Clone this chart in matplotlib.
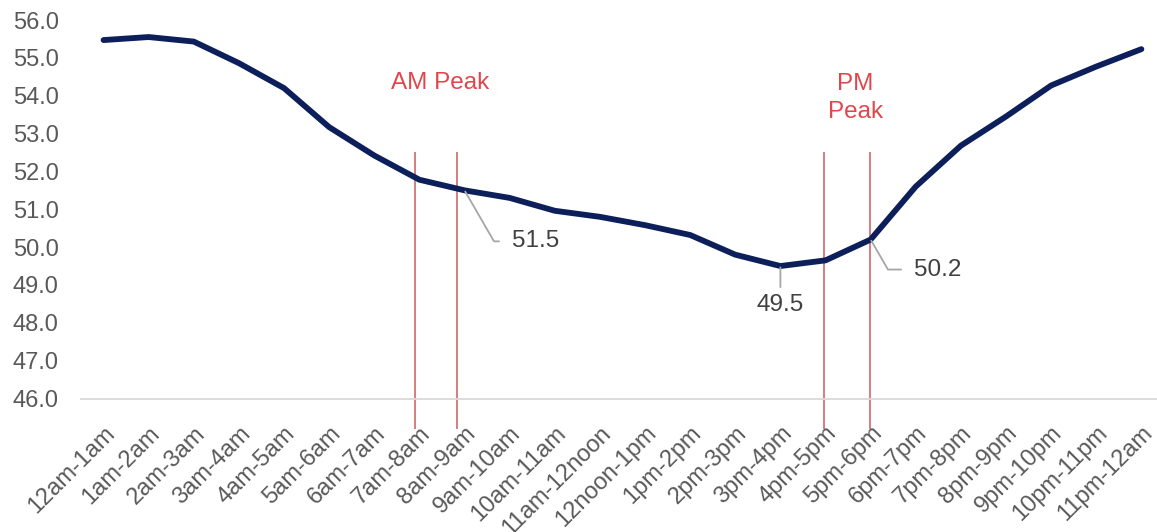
import matplotlib
matplotlib.use("Agg")
import matplotlib.pyplot as plt

plt.rcParams['font.family'] = ['Liberation Sans', 'DejaVu Sans']

# Hourly time bands
hours = ["12am-1am", "1am-2am", "2am-3am", "3am-4am", "4am-5am", "5am-6am",
         "6am-7am", "7am-8am", "8am-9am", "9am-10am", "10am-11am", "11am-12noon",
         "12noon-1pm", "1pm-2pm", "2pm-3pm", "3pm-4pm", "4pm-5pm", "5pm-6pm",
         "6pm-7pm", "7pm-8pm", "8pm-9pm", "9pm-10pm", "10pm-11pm", "11pm-12am"]

# Average speed per hour
speed = [55.47, 55.55, 55.43, 54.86, 54.20, 53.17, 52.42, 51.78, 51.5, 51.30,
         50.96, 50.80, 50.58, 50.32, 49.80, 49.5, 49.65, 50.2, 51.60, 52.68,
         53.45, 54.27, 54.77, 55.23]

y_ticks = [46.0, 47.0, 48.0, 49.0, 50.0, 51.0, 52.0, 53.0, 54.0, 55.0, 56.0]

# Peak-period boundary markers (category positions)
am_peak_bounds = [6.91, 7.84]
pm_peak_bounds = [15.97, 16.99]

# Points that carry a value label, with label offsets in pixels
labelled = {8: (47, -51), 17: (43, -30), 15: (0, -28)}

NAVY = "#0C1F5B"
RED_LINE = "#CC5A5E"
RED_TEXT = "#E0474C"
GREY_TICK = "#595959"
GREY_LABEL = "#404040"
LEADER = "#A6A6A6"

fig = plt.figure(figsize=(11.57, 5.32), dpi=100)
ax = fig.add_axes([0.0700, 0.2509, 0.936, 0.7115])

x = list(range(len(hours)))
ax.plot(x, speed, color=NAVY, lw=4.2, solid_capstyle="round",
        solid_joinstyle="round", zorder=3)

ax.set_xlim(-0.5, 23.5)
ax.set_ylim(46, 56)
ax.set_yticks(y_ticks)
ax.set_yticklabels([f"{v:.1f}" for v in y_ticks])
ax.set_xticks(x)
ax.set_xticklabels(hours, rotation=45, ha="right", va="top",
                   rotation_mode="anchor")

ax.tick_params(axis="y", length=0, pad=16, labelsize=17, labelcolor=GREY_TICK)
ax.tick_params(axis="x", length=0, pad=17, labelsize=17, labelcolor=GREY_TICK)

for side in ("left", "right", "top"):
    ax.spines[side].set_visible(False)
ax.spines["bottom"].set_color("#D9D9D9")
ax.spines["bottom"].set_linewidth(1.3)

# Peak-period markers
ax.vlines(am_peak_bounds + pm_peak_bounds, 45.2, 52.5, colors=RED_LINE,
          lw=1.1, clip_on=False, zorder=2)
ax.text(sum(am_peak_bounds) / 2 + 0.08, 54.34, "AM Peak", color=RED_TEXT,
        fontsize=17.5, ha="center", va="center")
ax.text(sum(pm_peak_bounds) / 2 + 0.18, 53.94, "PM\nPeak", color=RED_TEXT,
        fontsize=17.5, ha="center", va="center", linespacing=1.3)

# Value labels with leader lines
for i, (dx, dy) in labelled.items():
    if dx == 0:
        ax.annotate(f"{speed[i]:.1f}", xy=(i, speed[i]), xytext=(dx, dy),
                    textcoords="offset pixels", ha="center", va="top",
                    fontsize=17.5, color=GREY_LABEL,
                    arrowprops=dict(arrowstyle="-", color=LEADER, lw=1.3,
                                    shrinkA=3, shrinkB=1, relpos=(0.5, 1.0)))
    else:
        ax.annotate(f"{speed[i]:.1f}", xy=(i, speed[i]), xytext=(dx, dy),
                    textcoords="offset pixels", ha="left", va="center",
                    fontsize=17.5, color=GREY_LABEL,
                    arrowprops=dict(arrowstyle="-", color=LEADER, lw=1.3,
                                    shrinkA=7, shrinkB=1, relpos=(0.0, 0.5),
                                    connectionstyle="angle,angleA=0,angleB=-60,rad=0"))

fig.savefig("out.png", dpi=100, facecolor="white")
